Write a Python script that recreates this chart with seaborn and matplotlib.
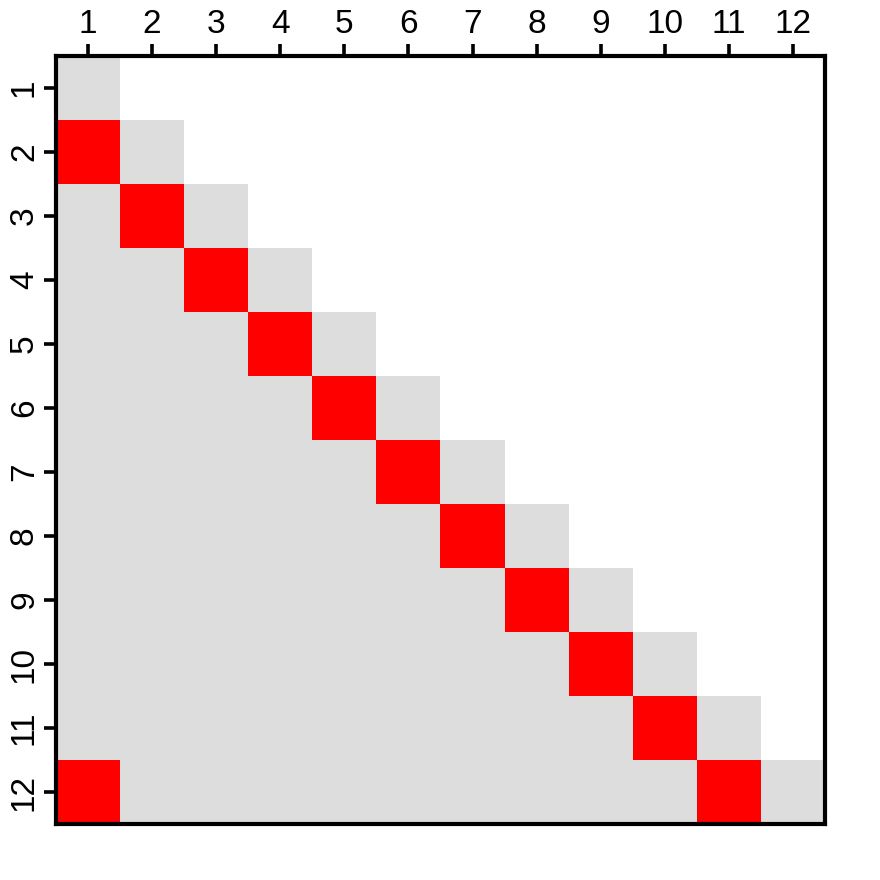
import numpy as np
import pandas as pd
import matplotlib
matplotlib.use("Agg")
import matplotlib.pyplot as plt
import seaborn as sns
from matplotlib.colors import ListedColormap

# row / column labels
labels = [str(i) for i in range(1, 13)]
# cells marked red (row, column), 1-based
red_rows = [2, 3, 4, 5, 6, 7, 8, 9, 10, 11, 12, 12]
red_cols = [1, 2, 3, 4, 5, 6, 7, 8, 9, 10, 11, 1]

n = len(labels)
# 0 = empty (upper triangle), 1 = grey (lower triangle incl. diagonal), 2 = red
mat = np.zeros((n, n), dtype=int)
for i in range(n):
    for j in range(i + 1):
        mat[i, j] = 1
for r, c in zip(red_rows, red_cols):
    mat[r - 1, c - 1] = 2
df = pd.DataFrame(mat, index=labels, columns=labels)

sns.set_style("white")
plt.rcParams['font.family'] = ['Liberation Sans', 'DejaVu Sans']

fig = plt.figure(figsize=(8.8, 8.8), dpi=100)
ax = fig.add_axes([0.0636, 0.0636, 0.8739, 0.8728])

cmap = ListedColormap(["#FFFFFF", "#DDDDDD", "#FF0000"])
sns.heatmap(df, ax=ax, cmap=cmap, vmin=-0.5, vmax=2.5, cbar=False,
            square=False, linewidths=0)

ax.xaxis.tick_top()
ax.tick_params(axis='both', which='both', length=8.5, width=2.6, pad=3,
               labelsize=24, color='black', labelcolor='black')
ax.tick_params(axis='x', top=True, bottom=False, labeltop=True, labelbottom=False)
ax.tick_params(axis='y', left=True, right=False)
plt.setp(ax.get_xticklabels(), rotation=0)
plt.setp(ax.get_yticklabels(), rotation=90, va='center')
ax.set_xlabel('')
ax.set_ylabel('')

for side in ['left', 'right', 'top', 'bottom']:
    ax.spines[side].set_visible(True)
    ax.spines[side].set_linewidth(3)
    ax.spines[side].set_color('black')

fig.savefig("out.png", dpi=100)
